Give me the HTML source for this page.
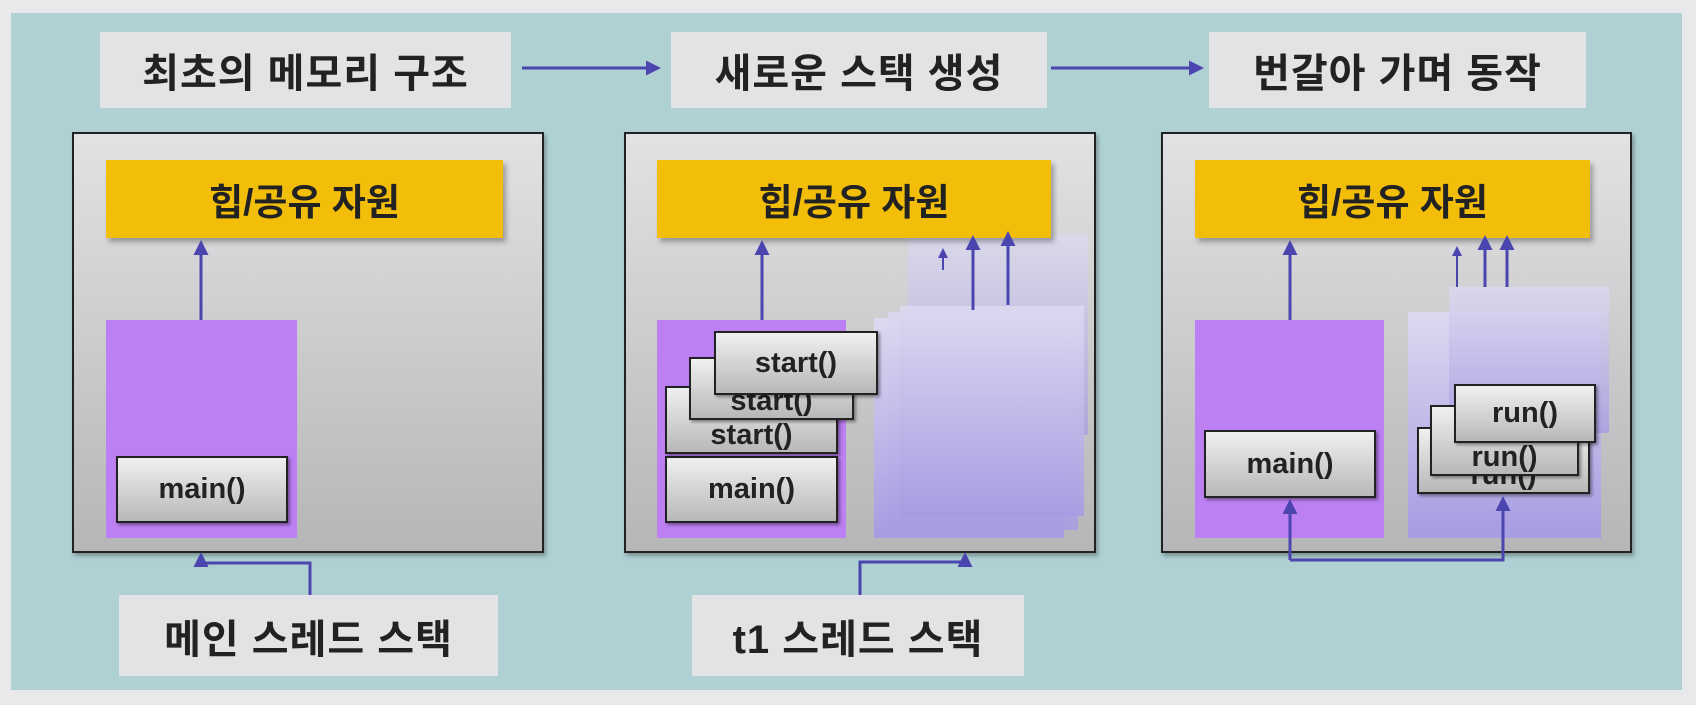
<!DOCTYPE html>
<html><head><meta charset="utf-8"><style>
*{margin:0;padding:0;box-sizing:border-box}
body{width:1696px;height:705px;background:#e9e9eb;position:relative;overflow:hidden;font-family:"Liberation Sans","Noto Sans CJK KR",sans-serif;font-weight:bold;color:#222}
.a{position:absolute}
.teal{left:11px;top:13px;width:1671px;height:677px;background:#afd1d3}
.lbl{background:#e3e3e5;display:flex;align-items:center;justify-content:center;font-size:40px;letter-spacing:1px}
.panel{border:2px solid #222;background:linear-gradient(#e2e2e4,#b6b6b8);box-shadow:2px 3px 4px rgba(0,0,0,.3)}
.heap{background:#f2be0a;display:flex;align-items:center;justify-content:center;font-size:37px;box-shadow:3px 4px 5px rgba(0,0,0,.3)}
.pur{background:#bd80f3}
.lav{background:linear-gradient(#dcd9f0,#a69ce2)}
.fr{border:2px solid #222;background:linear-gradient(#f0f0f0,#b8b8b8);display:flex;align-items:center;justify-content:center;font-size:29px;box-shadow:2px 2px 3px rgba(0,0,0,.4)}
</style></head><body>
<div class="a teal"></div>
<div class="a lbl" style="left:100px;top:32px;width:411px;height:76px">최초의 메모리 구조</div>
<div class="a lbl" style="left:671px;top:32px;width:376px;height:76px">새로운 스택 생성</div>
<div class="a lbl" style="left:1209px;top:32px;width:377px;height:76px">번갈아 가며 동작</div>
<div class="a lbl" style="left:119px;top:595px;width:379px;height:81px">메인 스레드 스택</div>
<div class="a lbl" style="left:692px;top:595px;width:332px;height:81px">t1 스레드 스택</div>

<div class="a panel" style="left:72px;top:132px;width:472px;height:421px"></div>
<div class="a panel" style="left:624px;top:132px;width:472px;height:421px"></div>
<div class="a panel" style="left:1161px;top:132px;width:471px;height:421px"></div>

<div class="a lav" style="left:908px;top:235px;width:180px;height:200px;opacity:.7"></div>
<div class="a lav" style="left:874px;top:318px;width:190px;height:220px"></div>
<div class="a lav" style="left:888px;top:312px;width:190px;height:218px;opacity:.9"></div>
<div class="a lav" style="left:900px;top:306px;width:184px;height:210px;opacity:.9"></div>

<div class="a heap" style="left:106px;top:160px;width:397px;height:78px">힙/공유 자원</div>
<div class="a heap" style="left:657px;top:160px;width:394px;height:78px">힙/공유 자원</div>
<div class="a heap" style="left:1195px;top:160px;width:395px;height:78px">힙/공유 자원</div>

<div class="a pur" style="left:106px;top:320px;width:191px;height:218px"></div>
<div class="a fr" style="left:116px;top:456px;width:172px;height:67px">main()</div>

<div class="a pur" style="left:657px;top:320px;width:189px;height:218px"></div>
<div class="a fr" style="left:665px;top:456px;width:173px;height:67px">main()</div>
<div class="a fr" style="left:665px;top:386px;width:173px;height:68px;align-items:flex-end">start()</div>
<div class="a fr" style="left:689px;top:357px;width:165px;height:63px;align-items:flex-end">start()</div>
<div class="a fr" style="left:714px;top:331px;width:164px;height:64px">start()</div>

<div class="a pur" style="left:1195px;top:320px;width:189px;height:218px"></div>
<div class="a fr" style="left:1204px;top:430px;width:172px;height:68px">main()</div>
<div class="a lav" style="left:1408px;top:312px;width:193px;height:226px"></div>
<div class="a lav" style="left:1449px;top:287px;width:160px;height:146px;opacity:.8"></div>
<div class="a fr" style="left:1417px;top:427px;width:173px;height:67px;align-items:flex-end">run()</div>
<div class="a fr" style="left:1430px;top:405px;width:149px;height:71px;align-items:flex-end">run()</div>
<div class="a fr" style="left:1454px;top:384px;width:142px;height:59px">run()</div>

<svg class="a" style="left:0;top:0" width="1696" height="705">
<defs><marker id="m" markerWidth="5" markerHeight="5" refX="4" refY="2.5" orient="auto" markerUnits="strokeWidth"><path d="M0,0L5,2.5L0,5z" fill="#4b45b0"/></marker></defs>
<g stroke="#4b45b0" stroke-width="3" fill="none" marker-end="url(#m)">
<path d="M522 68H658"/>
<path d="M1051 68H1201"/>
<path d="M201 320V243"/>
<path d="M310 595V563H201V555"/>
<path d="M762 320V243"/>
<path d="M860 595V562H965V555"/>
<path d="M943 270V250" stroke-width="2"/>
<path d="M973 310V238"/>
<path d="M1008 305V234"/>
<path d="M1290 320V243"/>
<path d="M1457 287V248" stroke-width="2"/>
<path d="M1485 287V238"/>
<path d="M1507 287V238"/>
<path d="M1290 560V502"/>
<path d="M1290 560H1503V499"/>
</g>
</svg>
</body></html>
